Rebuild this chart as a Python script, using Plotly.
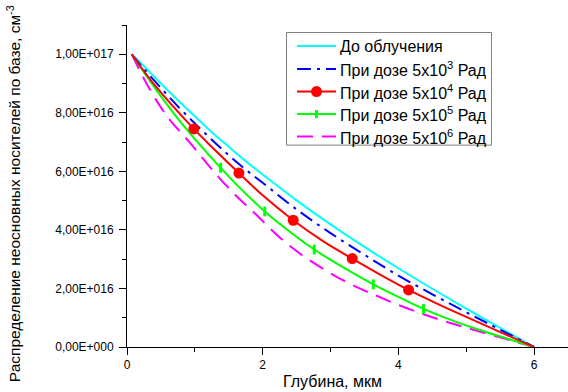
import plotly.graph_objects as go

# ---- data, y in units of 1e17 cm^-3 ----
x_cyan = [0.07, 0.25, 0.5, 0.75, 1.0, 1.25, 1.5, 1.75, 2.0, 2.5, 3.0, 3.5, 4.0, 4.5, 5.0, 5.5, 6.0]
y_cyan = [1.0, 0.959, 0.900, 0.843, 0.788, 0.734, 0.684, 0.635, 0.589, 0.501, 0.419, 0.342, 0.269, 0.199, 0.131, 0.065, 0.0]

x_blue = [0.07, 0.25, 0.5, 0.75, 1.0, 1.25, 1.5, 1.75, 2.0, 2.5, 3.0, 3.5, 4.0, 4.5, 5.0, 5.5, 6.0]
y_blue = [1.0, 0.950, 0.885, 0.822, 0.764, 0.708, 0.655, 0.606, 0.561, 0.470, 0.389, 0.315, 0.244, 0.180, 0.119, 0.059, 0.0]

x_red = [0.07, 0.4, 0.985, 1.3, 1.65, 2.0, 2.45, 2.9, 3.32, 3.75, 4.15, 4.6, 5.0, 5.5, 6.0]
y_red = [1.0, 0.897, 0.745, 0.672, 0.594, 0.518, 0.433, 0.360, 0.302, 0.245, 0.195, 0.145, 0.103, 0.051, 0.0]
x_red_markers = [0.985, 1.65, 2.45, 3.32, 4.15]
y_red_markers = [0.745, 0.594, 0.433, 0.302, 0.195]

x_green = [0.07, 0.35, 0.7, 1.05, 1.38, 1.7, 2.03, 2.4, 2.76, 3.2, 3.63, 4.0, 4.37, 4.8, 5.2, 5.6, 6.0]
y_green = [1.0, 0.905, 0.795, 0.697, 0.612, 0.535, 0.463, 0.394, 0.333, 0.270, 0.214, 0.171, 0.130, 0.090, 0.058, 0.029, 0.0]
x_green_markers = [1.38, 2.03, 2.76, 3.63, 4.37]
y_green_markers = [0.612, 0.463, 0.333, 0.214, 0.130]

x_mag = [0.07, 0.3, 0.6, 0.92, 1.34, 1.62, 1.89, 2.26, 2.58, 2.92, 3.3, 3.68, 4.03, 4.37, 4.67, 5.0, 5.5, 6.0]
y_mag = [1.0, 0.895, 0.785, 0.700, 0.583, 0.514, 0.455, 0.372, 0.314, 0.263, 0.214, 0.175, 0.141, 0.112, 0.089, 0.066, 0.033, 0.0]

names = ["До облучения",
         "При дозе 5x10<sup>3</sup> Рад",
         "При дозе 5x10<sup>4</sup> Рад",
         "При дозе 5x10<sup>5</sup> Рад",
         "При дозе 5x10<sup>6</sup> Рад"]

y_tickvals = [0, 2e16, 4e16, 6e16, 8e16, 1e17]
y_ticktext = ["0,00E+000", "2,00E+016", "4,00E+016", "6,00E+016", "8,00E+016", "1,00E+017"]
x_tickvals = [0, 2, 4, 6]
x_ticktext = ["0", "2", "4", "6"]

SCALE = 1e17
FONT = "Liberation Sans, Arial, sans-serif"

CYAN, BLUE, RED, GREEN, MAG = "#00FFFF", "#0000FF", "#FF0000", "#00FF00", "#FF00FF"
BLUE_DASH = "14px,6px,3px,6px"
MAG_DASH = "16px,9px"


def sc(v):
    return [a * SCALE for a in v]


GREEN_MARKER = dict(symbol="line-ns", size=7, line=dict(color=GREEN, width=3))

fig = go.Figure()
fig.add_trace(go.Scatter(x=x_cyan, y=sc(y_cyan), mode="lines", name=names[0], showlegend=False,
                         line=dict(color=CYAN, width=2, shape="spline")))
fig.add_trace(go.Scatter(x=x_blue, y=sc(y_blue), mode="lines", name=names[1], showlegend=False,
                         line=dict(color=BLUE, width=2, shape="spline", dash=BLUE_DASH)))
fig.add_trace(go.Scatter(x=x_mag, y=sc(y_mag), mode="lines", name=names[4], showlegend=False,
                         line=dict(color=MAG, width=2, shape="spline", dash=MAG_DASH)))
fig.add_trace(go.Scatter(x=x_green, y=sc(y_green), mode="lines", name=names[3], showlegend=False,
                         line=dict(color=GREEN, width=2, shape="spline")))
fig.add_trace(go.Scatter(x=x_green_markers, y=sc(y_green_markers), mode="markers", showlegend=False,
                         marker=GREEN_MARKER))
fig.add_trace(go.Scatter(x=x_red, y=sc(y_red), mode="lines", name=names[2], showlegend=False,
                         line=dict(color=RED, width=2, shape="spline")))
fig.add_trace(go.Scatter(x=x_red_markers, y=sc(y_red_markers), mode="markers", showlegend=False,
                         marker=dict(symbol="circle", size=11, color=RED)))

# ---- hand-built legend (paper coordinates) ----
PL, PB, PW, PH = 127.0, 346.7, 441.0, 321.7   # plot-area pixel geometry


def px_x(p):
    return (p - PL) / PW


def px_y(p):
    return (PB - p) / PH


shapes = [dict(type="rect", xref="paper", yref="paper", x0=px_x(286.5), x1=px_x(491.5),
               y0=px_y(145), y1=px_y(32.5), line=dict(color="#808080", width=1),
               fillcolor="white", layer="above")]
annotations = []
row_y = [46, 69, 91.5, 114, 136.5]
styles = [(CYAN, "solid"), (BLUE, BLUE_DASH), (RED, "solid"), (GREEN, "solid"), (MAG, MAG_DASH)]
for i, (ry, (col, dash)) in enumerate(zip(row_y, styles)):
    yy = px_y(ry)
    shapes.append(dict(type="line", xref="paper", yref="paper", x0=px_x(297), x1=px_x(336),
                       y0=yy, y1=yy, line=dict(color=col, width=2, dash=dash), layer="above"))
    if i == 2:
        shapes.append(dict(type="circle", xref="paper", yref="paper", xsizemode="pixel",
                           ysizemode="pixel", xanchor=px_x(316.5), yanchor=yy,
                           x0=-5.5, x1=5.5, y0=-5.5, y1=5.5, fillcolor=RED,
                           line=dict(color=RED, width=0), layer="above"))
    if i == 3:
        shapes.append(dict(type="line", xref="paper", yref="paper", xsizemode="pixel",
                           ysizemode="pixel", xanchor=px_x(316.5), yanchor=yy,
                           x0=0, x1=0, y0=-4, y1=4,
                           line=dict(color=GREEN, width=3), layer="above"))
    annotations.append(dict(text=names[i], xref="paper", yref="paper", x=px_x(337.5), y=yy,
                            xanchor="left", yanchor="middle", showarrow=False,
                            font=dict(family=FONT, size=16, color="black")))

annotations += [
    dict(text="Глубина, мкм", xref="paper", yref="paper", x=px_x(332), y=px_y(381.5),
         xanchor="center", yanchor="middle", showarrow=False,
         font=dict(family=FONT, size=16, color="black")),
    dict(text="Распределение неосновных носителей по базе, см<sup>-3</sup>", xref="paper",
         yref="paper", x=px_x(14), y=px_y(194), xanchor="center", yanchor="middle",
         textangle=-90, showarrow=False, font=dict(family=FONT, size=15.5, color="black")),
]

axis_common = dict(showline=True, linecolor="black", linewidth=1, ticks="outside", ticklen=7,
                   tickcolor="black", tickwidth=1, showgrid=False, zeroline=False, automargin=False,
                   tickfont=dict(family=FONT, size=12, color="black"))

fig.update_layout(
    width=568, height=392,
    margin=dict(l=127, r=0, t=25, b=45, autoexpand=False),
    paper_bgcolor="white", plot_bgcolor="white",
    font=dict(family=FONT, color="black"),
    showlegend=False,
    xaxis=dict(range=[0, 6.5], tickmode="array", tickvals=x_tickvals, ticktext=x_ticktext,
               minor=dict(tickmode="linear", tick0=0, dtick=1, ticks="outside", ticklen=4,
                          tickcolor="black"),
               **axis_common),
    yaxis=dict(range=[0, 1.1e17], tickmode="array", tickvals=y_tickvals, ticktext=y_ticktext,
               ticklabelstandoff=3,
               minor=dict(tickmode="linear", tick0=0, dtick=1e16, ticks="outside", ticklen=4,
                          tickcolor="black"),
               **axis_common),
    shapes=shapes,
    annotations=annotations,
)

fig.write_html("out.html", config={"displayModeBar": False},
               post_script="document.body.style.margin='0px';")
